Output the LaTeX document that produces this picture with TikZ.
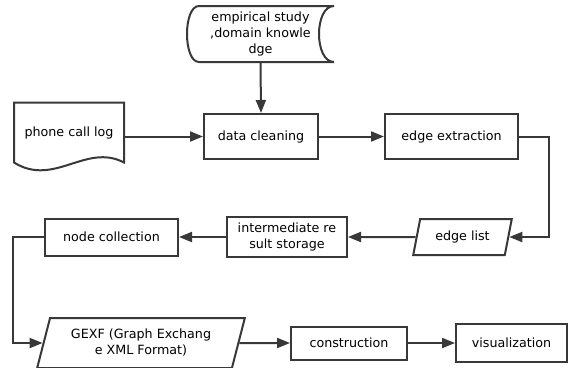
\documentclass[tikz,border=0pt]{standalone}
\usepackage{fontspec}
\setmainfont{DejaVu Sans}
\usetikzlibrary{arrows.meta, shapes.geometric}
\definecolor{cline}{HTML}{383838}
\tikzset{
  every picture/.style={line width=2pt},
  proc/.style={draw=cline, align=center, inner sep=0pt},
  io/.style={trapezium, trapezium left angle=70, trapezium right angle=110, trapezium stretches=true, draw=cline, align=center, inner sep=0pt},
  plain/.style={align=center, inner sep=0pt},
  arrow/.style={-{Triangle[length=13pt, width=10pt]}, draw=cline, line width=2pt},
}

\begin{document}
\begin{tikzpicture}[x=1pt, y=-1pt, font=\fontsize{12.7}{16}\selectfont]
  \useasboundingbox (0,0) rectangle (575,367);
  \node[plain, minimum width=145pt, minimum height=54pt] (store) at (260.5,34) {empirical study\\,domain knowle\\dge};
  \draw[cline] ([xshift=12pt]store.north west) -- (store.north east) .. controls +(-20,0) and +(-20,0) .. (store.south east) -- ([xshift=12pt]store.south west) .. controls +(-16,0) and +(-16,0) .. cycle;
  \node[plain, minimum width=108pt, minimum height=58pt] (phone) at (69,132.5) {phone call log};
  \draw[cline] (phone.north west) -- (phone.north east) -- (phone.south east) .. controls +(-38,-20) and +(40,25) .. (phone.south west) -- cycle;
  \node[proc, minimum width=114pt, minimum height=45pt] (dc) at (261,136.5) {data cleaning};
  \node[proc, minimum width=133pt, minimum height=45pt] (ee) at (451.5,136.5) {edge extraction};
  \node[io, minimum width=99pt, minimum height=36pt] (el) at (462.5,237) {edge list};
  \node[proc, minimum width=120pt, minimum height=40pt] (ims) at (287,237) {intermediate re\\sult storage};
  \node[proc, minimum width=133pt, minimum height=37pt] (nc) at (111.5,237) {node collection};
  \node[io, minimum width=208pt, minimum height=50pt] (gexf) at (141,343) {GEXF (Graph Exchang\\e XML Format)};
  \node[proc, minimum width=116pt, minimum height=33pt] (cons) at (349,343) {construction};
  \node[proc, minimum width=111pt, minimum height=38pt] (vis) at (511.5,343) {visualization};
  \draw[arrow] (store.south) -- (dc.north);
  \draw[arrow] (phone.east |- dc.west) -- (dc.west);
  \draw[arrow] (dc) -- (ee);
  \draw[arrow] (ee.east) -- ++(30,0) |- (el.east);
  \draw[arrow] (el) -- (ims);
  \draw[arrow] (ims) -- (nc);
  \draw[arrow] (nc.west) -- ++(-31,0) |- (gexf.west);
  \draw[arrow] (gexf) -- (cons);
  \draw[arrow] (cons) -- (vis);
\end{tikzpicture}
\end{document}
